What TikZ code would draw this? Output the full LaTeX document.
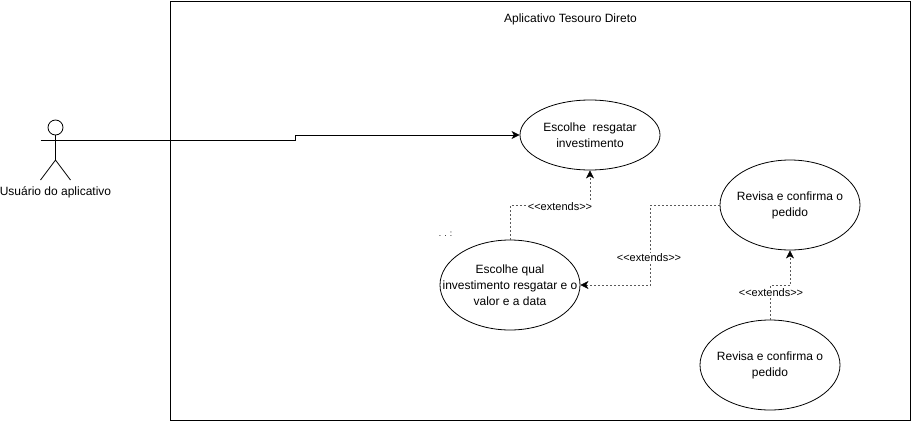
\documentclass[tikz,border=0pt]{standalone}
\usepackage{fontspec}
\setmainfont{Liberation Sans}
\usetikzlibrary{arrows.meta,shapes.geometric}
\tikzset{
  usecase/.style={draw,ellipse,minimum width=140bp,inner xsep=-50bp,inner ysep=-30bp,align=center,font=\fontsize{12bp}{16bp}\selectfont},
  txt/.style={inner sep=0pt,align=center,font=\fontsize{12bp}{16bp}\selectfont},
  extlabel/.style={fill=white,inner sep=0.5pt,font=\fontsize{11bp}{13bp}\selectfont},
  extline/.style={dash pattern=on 2bp off 2bp,line width=0.6bp,black!65,-{Stealth[length=8bp,width=8bp,black,inset=2.2bp]}},
  assoc/.style={line width=0.8bp,-{Stealth[length=8bp,width=8bp,inset=2.2bp]}}
}
\begin{document}
\begin{tikzpicture}[line width=0.8bp]
  \useasboundingbox (0bp,0bp) rectangle (911bp,-421bp);
  \node (Sistema) at (540.2bp,-210.5bp) [draw,minimum width=739.5bp,minimum height=419bp,inner sep=0pt] {};
  \node (Titulo) at (570.5bp,-19.5bp) [txt] {Aplicativo Tesouro Direto};
  % ator
  \node (Cabeca) at (55.5bp,-127.5bp) [draw,circle,minimum size=15bp,inner sep=0pt] {};
  \coordinate (Quadril) at (55.5bp,-160bp);
  \coordinate (BracoE) at (40.5bp,-140.5bp);
  \coordinate (BracoD) at (70.5bp,-140.5bp);
  \coordinate (PeE) at (40.5bp,-180bp);
  \coordinate (PeD) at (70.5bp,-180bp);
  \node (Ator) at (55.5bp,-192.5bp) [txt] {Usuário do aplicativo};
  \draw (Cabeca) -- (Quadril);
  \draw (BracoE) -- (BracoD);
  \draw (PeE) -- (Quadril) -- (PeD);
  % casos de uso
  \node (Resgatar) at (590bp,-135bp) [usecase,minimum height=70bp] {Escolhe\ \ resgatar\\investimento};
  \node (Qual) at (510bp,-285bp) [usecase,minimum height=90bp] {Escolhe qual\\investimento resgatar e o\\valor e a data};
  \node (Revisa) at (790bp,-205bp) [usecase,minimum height=90bp] {Revisa e confirma o\\pedido};
  \node (Confirma) at (770bp,-365bp) [usecase,minimum height=90bp] {Revisa e confirma o\\pedido};
  \node (Pontos) at (445.5bp,-234bp) [txt,font=\fontsize{8.5bp}{8.5bp}\selectfont] {. . :};
  % ligacoes
  \draw [assoc] (BracoD) -- (295.5bp,-140.5bp) -- (295.5bp,-135bp) -- (Resgatar);
  \draw [extline] (Qual.north) -- (510bp,-205.5bp) -- (590bp,-205.5bp) -- (Resgatar.south);
  \draw (560bp,-206.5bp) node [extlabel] {<{}<extends>{}>};
  \draw [extline] (Revisa.west) -- (650.5bp,-205bp) -- (650.5bp,-285bp) -- (Qual.east);
  \draw (649bp,-257.5bp) node [extlabel] {<{}<extends>{}>};
  \draw [extline] (Confirma.north) -- (770bp,-285.5bp) -- (790bp,-285.5bp) -- (Revisa.south);
  \draw (771bp,-292.5bp) node [extlabel] {<{}<extends>{}>};
\end{tikzpicture}
\end{document}
